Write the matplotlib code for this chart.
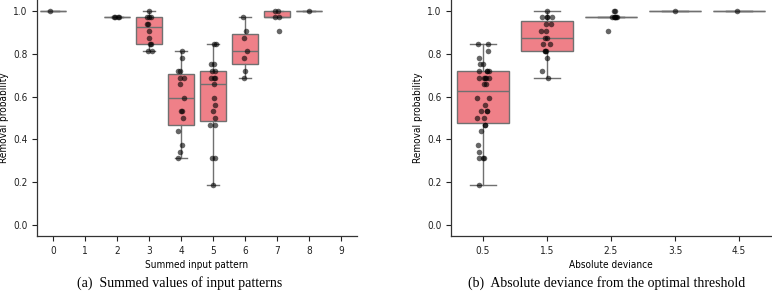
import numpy as np
import matplotlib
matplotlib.use("Agg")
import matplotlib.pyplot as plt

# ---- data (removal probabilities per summed input pattern) ----
sum_categories = [0, 1, 2, 3, 4, 5, 6, 7, 8, 9]
cat0 = [1.0]
cat1 = []
cat2 = [0.96875, 0.96875, 0.96875, 0.96875]
cat3 = [1.0, 0.96875, 0.96875, 0.96875, 0.9375, 0.9375, 0.90625, 0.875,
        0.84375, 0.84375, 0.8125, 0.8125]
cat4 = [0.8125, 0.78125, 0.71875, 0.71875, 0.6875, 0.6875, 0.65625, 0.59375,
        0.53125, 0.53125, 0.5, 0.4375, 0.375, 0.34375, 0.3125]
cat5 = [0.84375, 0.84375, 0.75, 0.75, 0.71875, 0.71875, 0.6875, 0.6875, 0.6875,
        0.65625, 0.59375, 0.5625, 0.53125, 0.5, 0.46875, 0.46875, 0.3125,
        0.3125, 0.1875]
cat6 = [0.96875, 0.90625, 0.875, 0.8125, 0.78125, 0.71875, 0.6875]
cat7 = [1.0, 1.0, 0.96875, 0.96875, 0.90625]
cat8 = [1.0]
cat9 = []
sum_data = [cat0, cat1, cat2, cat3, cat4, cat5, cat6, cat7, cat8, cat9]

# absolute deviance from optimal threshold (4.5): groups of summed patterns
dev_labels = ["0.5", "1.5", "2.5", "3.5", "4.5"]
dev_groups = [(4, 5), (3, 6), (2, 7), (1, 8), (0, 9)]
dev_data = [sum_data[a] + sum_data[b] for a, b in dev_groups]

box_color = "#EF8088"
edge_color = "#707070"
fs = 7.2
tfont = dict(family="DejaVu Sans", stretch="condensed")

fig = plt.figure(figsize=(7.72, 2.96), dpi=100)
ax1 = fig.add_axes([37/772, 1-236/296, 320/772, 236/296])
ax2 = fig.add_axes([451/772, 1-236/296, 320/772, 236/296])

rng = np.random.default_rng(3)

def draw(ax, groups, labels, xlabel):
    pos = list(range(len(groups)))
    nonempty = [i for i, g in enumerate(groups) if len(g)]
    ax.boxplot([groups[i] for i in nonempty], positions=nonempty, widths=0.8,
               patch_artist=True, showfliers=False, whis=1.5,
               boxprops=dict(facecolor=box_color, edgecolor=edge_color, linewidth=1.0),
               medianprops=dict(color=edge_color, linewidth=1.0),
               whiskerprops=dict(color=edge_color, linewidth=1.0),
               capprops=dict(color=edge_color, linewidth=1.0))
    for i in nonempty:
        vals = np.array(groups[i])
        jit = rng.uniform(-0.1, 0.1, size=len(vals))
        ax.scatter(i + jit, vals, s=16, color="black", alpha=0.6,
                   linewidths=0, zorder=3)
    ax.set_xlim(-0.5, len(groups) - 0.5)
    ax.set_ylim(-0.05, 1.05)
    ax.set_xticks(pos)
    ax.set_xticklabels(labels, fontsize=fs, **tfont)
    ax.set_yticks([0.0, 0.2, 0.4, 0.6, 0.8, 1.0])
    ax.set_yticklabels(["0.0", "0.2", "0.4", "0.6", "0.8", "1.0"], fontsize=fs, **tfont)
    ax.tick_params(length=3.5, width=0.8, colors="#222222")
    ax.set_xlabel(xlabel, fontsize=fs, labelpad=3, **tfont)
    ax.set_ylabel("Removal probability", fontsize=fs, **tfont)
    ax.yaxis.set_label_coords(-28/320, 0.5)
    for s in ["top", "right"]:
        ax.spines[s].set_visible(False)
    for s in ["left", "bottom"]:
        ax.spines[s].set_color("#333333")
        ax.spines[s].set_linewidth(0.9)

draw(ax1, sum_data, [str(c) for c in sum_categories], "Summed input pattern")
draw(ax2, dev_data, dev_labels, "Absolute deviance")

fig.text(180/772, 1-283/296, "(a)  Summed values of input patterns",
         ha="center", va="center", fontsize=10, family="Liberation Serif")
fig.text(607/772, 1-283/296, "(b)  Absolute deviance from the optimal threshold",
         ha="center", va="center", fontsize=10, family="Liberation Serif")

fig.savefig("out.png", dpi=100)
